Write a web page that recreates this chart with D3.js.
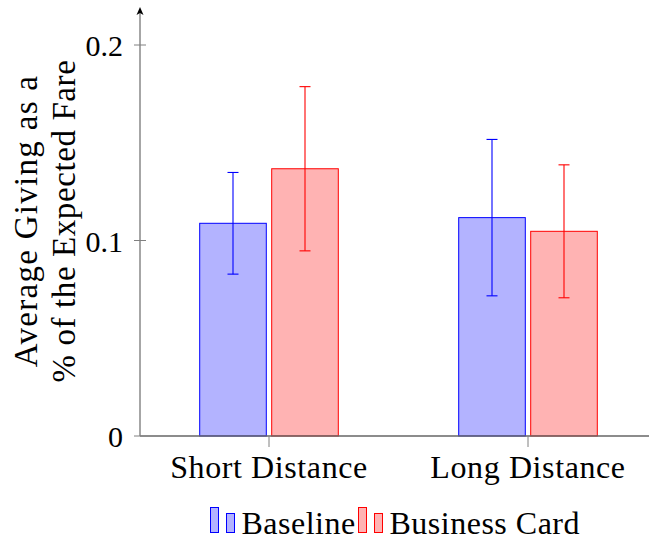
<!DOCTYPE html>
<html lang="en">
<head>
    <meta charset="UTF-8">
    <title>Average Giving</title>
    <script src="https://cdn.jsdelivr.net/npm/d3@7"></script>
    <style>
        body { margin: 0; background: #fff; }
        text { font-family: "Liberation Serif", "DejaVu Serif", serif; fill: #000; }
    </style>
</head>
<body>
    <svg width="649" height="542"></svg>

    <script>
        // data
        var categories = ["Short Distance", "Long Distance"];
        var series = ["Baseline", "Business Card"];
        var baselineMean = [0.1088, 0.1117];
        var baselineErr = [0.026, 0.040];
        var cardMean = [0.1367, 0.1047];
        var cardErr = [0.042, 0.034];
        var yTicks = [0, 0.1, 0.2];

        var fills = { "Baseline": "#b3b3ff", "Business Card": "#ffb3b3" };
        var strokes = { "Baseline": "#0000ff", "Business Card": "#ff0000" };

        var rows = [];
        categories.forEach(function(c, i) {
            rows.push({ cat: c, s: "Baseline", v: baselineMean[i], e: baselineErr[i] });
            rows.push({ cat: c, s: "Business Card", v: cardMean[i], e: cardErr[i] });
        });

        var svg = d3.select("svg");
        var axisLeft = 140, axisBottom = 436;

        var y = d3.scaleLinear().domain([0, 0.2]).range([axisBottom, 45]);
        var x = d3.scalePoint().domain(categories).range([269, 528]);
        var sub = d3.scaleBand().domain(series).range([-69.3, 69.3]).paddingInner(0.075);

        // bars
        svg.append("g").selectAll("rect")
            .data(rows)
            .enter().append("rect")
            .attr("x", function(d) { return x(d.cat) + sub(d.s); })
            .attr("y", function(d) { return y(d.v); })
            .attr("width", sub.bandwidth())
            .attr("height", function(d) { return y(0) - y(d.v); })
            .attr("fill", function(d) { return fills[d.s]; })
            .attr("stroke", function(d) { return strokes[d.s]; })
            .attr("stroke-width", 1);

        // error bars
        var err = svg.append("g").selectAll("g")
            .data(rows)
            .enter().append("g")
            .attr("stroke", function(d) { return strokes[d.s]; })
            .attr("stroke-width", 1.1);
        function cx(d) { return x(d.cat) + sub(d.s) + sub.bandwidth() / 2; }
        err.append("line")
            .attr("x1", cx).attr("x2", cx)
            .attr("y1", function(d) { return y(d.v + d.e); })
            .attr("y2", function(d) { return y(d.v - d.e); });
        [1, -1].forEach(function(sign) {
            err.append("line")
                .attr("x1", function(d) { return cx(d) - 5.5; })
                .attr("x2", function(d) { return cx(d) + 5.5; })
                .attr("y1", function(d) { return y(d.v + sign * d.e); })
                .attr("y2", function(d) { return y(d.v + sign * d.e); });
        });

        // x axis
        svg.append("line")
            .attr("x1", axisLeft).attr("x2", 649)
            .attr("y1", axisBottom).attr("y2", axisBottom)
            .attr("stroke", "#666").attr("stroke-width", 1.4);
        svg.append("g").selectAll("line")
            .data(categories)
            .enter().append("line")
            .attr("x1", function(d) { return x(d); })
            .attr("x2", function(d) { return x(d); })
            .attr("y1", axisBottom).attr("y2", axisBottom + 11)
            .attr("stroke", "#808080").attr("stroke-width", 1);
        svg.append("g").selectAll("text")
            .data(categories)
            .enter().append("text")
            .attr("x", function(d) { return x(d); })
            .attr("y", 478)
            .attr("text-anchor", "middle")
            .attr("font-size", 32)
            .attr("letter-spacing", 0.6)
            .text(function(d) { return d; });

        // y axis
        svg.append("line")
            .attr("x1", axisLeft).attr("x2", axisLeft)
            .attr("y1", axisBottom).attr("y2", 12)
            .attr("stroke", "#808080").attr("stroke-width", 1.4);
        svg.append("path")
            .attr("d", "M" + axisLeft + ",7 L" + (axisLeft - 3.5) + ",15 L" + axisLeft + ",13 L" + (axisLeft + 3.5) + ",15 Z")
            .attr("fill", "#000");
        svg.append("g").selectAll("line")
            .data(yTicks)
            .enter().append("line")
            .attr("x1", axisLeft - 6)
            .attr("x2", function(d) { return d === 0 ? axisLeft : axisLeft + 6; })
            .attr("y1", function(d) { return y(d); })
            .attr("y2", function(d) { return y(d); })
            .attr("stroke", "#808080").attr("stroke-width", 1);
        svg.append("g").selectAll("text")
            .data(yTicks)
            .enter().append("text")
            .attr("x", 123)
            .attr("y", function(d) { return y(d) + 11; })
            .attr("text-anchor", "end")
            .attr("font-size", 30)
            .text(function(d) { return d === 0 ? "0" : d3.format(".1f")(d); });

        // y label
        var yl = svg.append("text")
            .attr("transform", "translate(37,221) rotate(-90)")
            .attr("text-anchor", "middle")
            .attr("font-size", 33);
        yl.append("tspan").attr("x", 0).attr("dy", 0).attr("letter-spacing", 1.3)
            .text("Average Giving as a");
        yl.append("tspan").attr("x", 0).attr("dy", 38).attr("letter-spacing", 0.6)
            .text("% of the Expected Fare");

        // legend
        var legendX = [210.5, 358.5];
        var leg = svg.append("g").selectAll("g")
            .data(series)
            .enter().append("g")
            .attr("transform", function(d, i) { return "translate(" + legendX[i] + ",0)"; });
        leg.append("rect")
            .attr("x", 0).attr("y", 507.5).attr("width", 8).attr("height", 25)
            .attr("fill", function(d) { return fills[d]; })
            .attr("stroke", function(d) { return strokes[d]; });
        leg.append("rect")
            .attr("x", 16).attr("y", 513.5).attr("width", 8).attr("height", 19)
            .attr("fill", function(d) { return fills[d]; })
            .attr("stroke", function(d) { return strokes[d]; });
        leg.append("text")
            .attr("x", 31).attr("y", 534)
            .attr("font-size", 32)
            .attr("letter-spacing", 0.5)
            .text(function(d) { return d; });
    </script>
</body>
</html>
